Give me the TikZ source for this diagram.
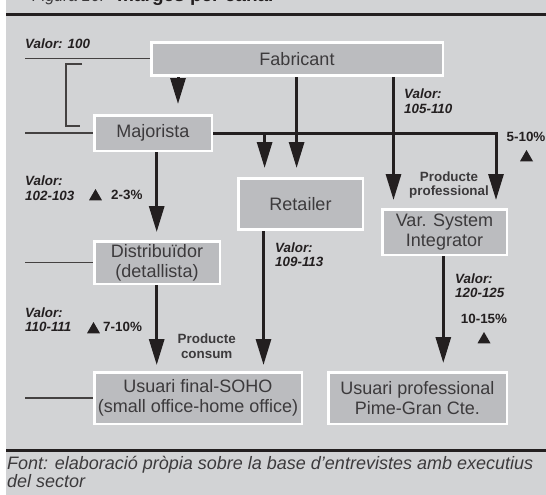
\documentclass[tikz,border=0pt]{standalone}
\usepackage{fontspec}
\setmainfont{Liberation Sans}
\usetikzlibrary{arrows.meta,shapes.geometric}
\definecolor{bgc}{RGB}{210,211,213}
\definecolor{boxc}{RGB}{187,188,191}
\definecolor{ink}{RGB}{35,31,32}
\definecolor{txt}{RGB}{60,58,60}
\pgfdeclarelayer{back}
\pgfdeclarelayer{bg}
\pgfsetlayers{back,bg,main}
\begin{document}
\begin{tikzpicture}[x=1pt,y=-1pt,
  box/.style={draw=white,line width=2.5pt,fill=boxc,inner sep=0pt,outer sep=0pt,
    align=center,font=\fontsize{18}{20}\selectfont,text=txt},
  arr/.style={draw=ink,line width=3pt,-{Triangle[width=15pt,length=26pt]}},
  guide/.style={draw=ink!85,line width=1.1pt},
  rule/.style={draw=ink,line width=3pt},
  valor/.style={anchor=west,align=left,inner sep=0pt,text=ink,
    font=\fontsize{13.4}{14.2}\selectfont\bfseries\itshape},
  pct/.style={inner sep=0pt,text=ink,font=\fontsize{13.4}{14.2}\selectfont\bfseries},
  prod/.style={inner sep=0pt,align=center,text=txt,font=\fontsize{13.4}{14.5}\selectfont\bfseries},
  tri/.style={regular polygon,regular polygon sides=3,fill=ink,minimum size=15pt,inner sep=0pt,outer sep=0pt},
  capt/.style={anchor=base west,inner sep=0pt,text=txt,font=\fontsize{18}{16}\selectfont\itshape},
]
\useasboundingbox (0,0) rectangle (546,495);
\clip (0,0) rectangle (546,495);
\begin{pgfonlayer}{back}
\fill[white] (0,0) rectangle (546,495);
\fill[bgc] (6,0) rectangle (546,495);
\end{pgfonlayer}

% title (cut off at top, as in the reference)
\node[anchor=base west,inner sep=0pt,text=txt,font=\fontsize{16}{18}\selectfont\itshape] (ttl) at (32,1.5) {Figura 16:};
\node[anchor=base west,inner sep=0pt,text=ink,font=\fontsize{19}{20}\selectfont\bfseries] (ttl2) at (117,1.5) {marges per canal};

% rules
\coordinate (r1) at (6,15);
\coordinate (r2) at (546,15);
\coordinate (r3) at (6,450);
\coordinate (r4) at (546,450);
\draw[rule] (r1) -- (r2);
\draw[rule] (r3) -- (r4);

% boxes
\node[box,minimum width=291.5pt,minimum height=33pt] (fab) at (297,58.8) {Fabricant};
\node[box,minimum width=117.5pt,minimum height=35.5pt] (maj) at (153,133) {Majorista};
\node[box,minimum width=124.5pt,minimum height=51pt] (ret) at (300.5,204) {Retailer};
\node[box,minimum width=124.5pt,minimum height=45.5pt] (vsi) at (444.5,232) {Var. System\\Integrator};
\node[box,minimum width=125.5pt,minimum height=42.5pt] (dist) at (157,262.5) {Distribuïdor\\(detallista)};
\node[box,minimum width=207.5pt,minimum height=51.5pt] (usf) at (198,398) {Usuari final-SOHO\\(small office-home office)};
\node[box,minimum width=178.5pt,minimum height=51.5pt] (usp) at (417.5,398) {Usuari professional\\Pime-Gran Cte.};

% arrow tips
\coordinate (t1) at (178,104);
\coordinate (t2) at (296.6,168);
\coordinate (t3) at (393.5,200);
\coordinate (t4) at (496,200);
\coordinate (t5) at (264.6,168);
\coordinate (t6) at (156.7,232);
\coordinate (t7) at (156.7,365);
\coordinate (t8) at (263.5,365);
\coordinate (t9) at (443.3,363);

\begin{pgfonlayer}{bg}
\draw[arr] (fab.south -| t1) -- (t1);
\draw[arr] (fab.south -| t2) -- (t2);
\draw[arr] (fab.south -| t3) -- (t3);
\draw[arr] (maj.east) -- (maj.east -| t4) -- (t4);
\draw[arr] (maj.east -| t5) -- (t5);
\draw[arr] (maj.south -| t6) -- (t6);
\draw[arr] (dist.south -| t7) -- (t7);
\draw[arr] (ret.south -| t8) -- (t8);
\draw[arr] (vsi.south -| t9) -- (t9);
% guide lines on the left
\coordinate (lx) at (25,0);
\draw[guide] (fab.west -| lx) -- (fab.west);
\draw[guide] (maj.west -| lx) -- (maj.west);
\draw[guide] (dist.west -| lx) -- (dist.west);
\draw[guide] (usf.west -| lx) -- (usf.west);
\end{pgfonlayer}

% bracket
\coordinate (b1) at (82,64);
\coordinate (b2) at (66,64);
\coordinate (b3) at (66,126);
\coordinate (b4) at (80,126);
\draw[guide] (b1) -- (b2) -- (b3) -- (b4);

% valor labels
\node[valor] (v100) at (25,44) {Valor: 100};
\node[valor] (v105) at (404,101.3) {Valor:\\105-110};
\node[valor] (v102) at (25,188.3) {Valor:\\102-103};
\node[valor] (v109) at (275,255) {Valor:\\109-113};
\node[valor] (v110) at (25,320) {Valor:\\110-111};
\node[valor] (v120) at (455,285.5) {Valor:\\120-125};

% percentages and triangles
\node[pct,anchor=west] (p23) at (111,195) {2-3\%};
\node[tri] (tr23) at (95.5,196.5) {};
\node[pct,anchor=west] (p710) at (103,327) {7-10\%};
\node[tri] (tr710) at (93.5,329.5) {};
\node[pct] (p510) at (526,137) {5-10\%};
\node[tri] (tr510) at (526.5,157.5) {};
\node[pct] (p1015) at (484,319) {10-15\%};
\node[tri] (tr1015) at (484,339.5) {};

% product labels
\node[prod] (pprof) at (449,185) {Producte\\professional};
\node[prod] (pcons) at (206.7,346) {Producte\\consum};

% caption
\node[capt] (cap1) at (7,469.5) {Font: elaboració pròpia sobre la base d’entrevistes amb executius};
\node[capt] (cap2) at (7,487.5) {del sector};
\end{tikzpicture}
\end{document}
